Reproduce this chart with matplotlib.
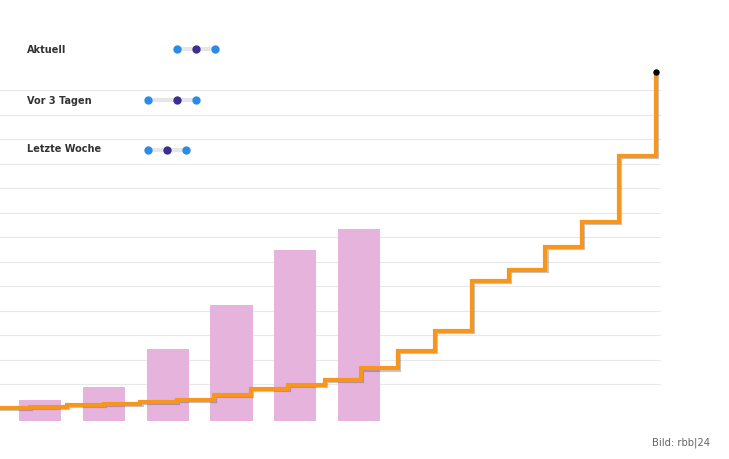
import numpy as np
import matplotlib
matplotlib.use("Agg")
from matplotlib import pyplot as plt
from matplotlib import patheffects as pe

# kumulierte Werte pro Tag (Treppenlinie)
days = np.arange(19)
cumulative = [0.1, 0.65, 1.35, 2.0, 2.7, 3.7, 5.55, 7.9, 9.5, 11.7, 16.4,
              23.5, 31.6, 52.2, 56.6, 66.1, 76.1, 103.2, 137.3]

# Balken (pro Woche)
bar_pos = np.arange(6)
bar_values = [21, 34, 72, 116, 171, 192]

# Legende oben links: tief / mittel / hoch
legend_labels = ["Aktuell", "Vor 3 Tagen", "Letzte Woche"]
legend_low = [3, 0, 0]
legend_mid = [5, 3, 2]
legend_high = [7, 5, 4]

grid_values = np.arange(10, 131, 10)

W, H = 729, 459
fig = plt.figure(figsize=(W / 100, H / 100), dpi=100)

rect = [0, (H - 421) / H, 661 / W, 421 / H]

# Gitterlinien
ax_grid = fig.add_axes(rect)
ax_grid.set_xlim(0.185, 18.14)
ax_grid.set_ylim(-5.06, 166.8)
ax_grid.set_yticks(grid_values)
ax_grid.set_xticks([])
ax_grid.tick_params(left=False, labelleft=False)
ax_grid.grid(axis="y", color="#e8e8e8", lw=0.8)
for s in ax_grid.spines.values():
    s.set_visible(False)

# Balken
ax_bar = fig.add_axes(rect)
ax_bar.bar(bar_pos, bar_values, width=0.66, color="#e6b3dc")
ax_bar.set_xlim(-0.627, 9.73)
ax_bar.set_ylim(0, 421)
ax_bar.axis("off")

# Treppenlinie
ax_line = fig.add_axes(rect, sharex=ax_grid, sharey=ax_grid)
ax_line.plot(days, cumulative, drawstyle="steps-post", color="#f7961c",
             lw=3.0, solid_joinstyle="miter",
             path_effects=[pe.SimpleLineShadow(offset=(0.8, -0.8), shadow_color="k", alpha=0.22),
                           pe.Normal()])
ax_line.plot(days[-1], cumulative[-1], "o", color="black", ms=3.6, clip_on=False, zorder=5)
ax_line.axis("off")

# Legende
row_px = [49.3, 100, 150]
ax_leg = fig.add_axes([0, 0, 1, 1])
ax_leg.set_xlim(-148 / 9.6, (W - 148) / 9.6)
ax_leg.set_ylim(H, 0)
ax_leg.axis("off")
text_px = [50, 100.5, 148.5]
for i, lab in enumerate(legend_labels):
    y = row_px[i]
    ax_leg.plot([legend_low[i], legend_high[i]], [y, y], color="#e6e6e6", lw=3,
                solid_capstyle="butt", zorder=1)
    ax_leg.plot([legend_low[i], legend_high[i]], [y, y], "o", color="#2b8be8",
                ms=6, mec="none", zorder=2)
    ax_leg.plot(legend_mid[i], y, "o", color="#3b2f90", ms=6, mec="none", zorder=3)
    fig.text(27 / W, 1 - text_px[i] / H, lab, fontsize=7,
             fontweight="bold", color="#333333", va="center", ha="left")

fig.text(710 / W, 1 - 443 / H, "Bild: rbb|24", fontsize=7.2, color="#666666",
         ha="right", va="center")

fig.savefig("out.png", dpi=100)
